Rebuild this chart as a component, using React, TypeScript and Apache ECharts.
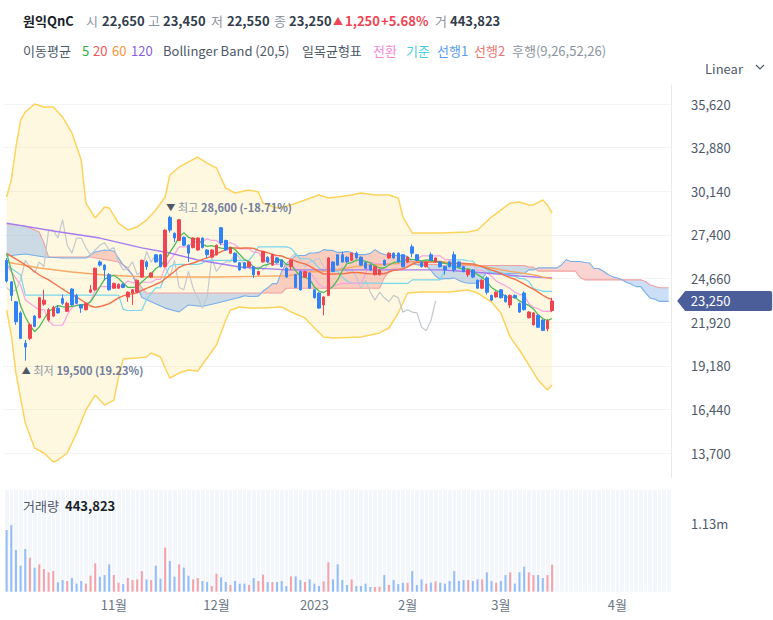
import React, { useEffect, useRef } from 'react';
import * as echarts from 'echarts';

// ---- price data ----
const opens = [25800,24450,23200,22500,20600,20900,22300,22200,23050,22050, 22300,22800,23400,22600,24000,23600,23000,22700,23800,23950, 25700,25500,24900,24050,24050,24300,23500,23750,23800,24750, 25700,24750,26150,26150,25400,28500,27500,27050,27250,26750, 26600,26450,27200,26450,26000,26150,27850,27050,26250,26250, 25650,25650,25400,25400,24900,25700,26000,25500,25950,25800, 25300,25400,24900,25100,24750,25000,23950,23750,23000,23600, 25700,26150,26150,26000,25800,26250,26000,25650,25500,24900, 24900,25800,25950,26250,26250,26150,25700,26650,26150,25700, 25400,26150,25700,25700,25400,25700,26150,25700,25400,24900, 25200,24550,24050,24700,23600,23500,23950,23600,23000,23600, 23100,23750,22200,21750,22350,22050,21500,22650];
const highs = [25950,24500,23250,22600,20800,21850,22350,23500,23950,22800, 22950,23000,23650,23200,24050,23700,23050,23150,24250,25350, 25800,25550,25000,24400,24350,24350,23850,24000,24600,25850, 25800,25050,26200,26200,27750,28600,27550,28400,27300,26800, 27250,27250,27250,26500,26500,26800,27900,27100,26650,26300, 25700,25700,25750,25450,25150,26400,26050,26200,26000,25850, 25350,25850,24950,25150,25150,25050,24000,23800,23550,26000, 25750,26200,26350,26050,26300,26350,26050,25700,25550,25450, 25250,25850,26300,26300,26300,26200,26050,26800,26200,25750, 25750,26300,26000,25750,25450,25750,26350,25750,25450,25250, 25250,24600,24600,24800,23650,23850,24000,23650,23650,23650, 23150,23850,22600,22550,22400,22100,22100,23450];
const lows = [24400,23250,21750,20850,19500,20800,21600,22150,22950,21950, 22250,22450,23000,22550,22950,23050,22500,22650,23750,23900, 25400,24550,23900,24000,24000,24050,23200,23000,23750,24700, 25200,24700,25650,25350,25350,27550,26950,27000,26700,25700, 26550,26400,26550,25950,25950,26100,26750,26400,26200,25650, 25150,25250,25350,24700,24850,25650,25650,25450,25600,25350, 24700,25200,24050,23900,24700,24000,23400,22750,22350,23550, 25050,25450,25650,25650,25750,25900,25450,25250,25150,24850, 24850,25450,25900,25900,25650,25350,25650,26000,25750,25350, 25350,25750,25650,25350,24900,25350,25050,25350,25050,24750, 24700,24000,24000,23650,23250,23450,23400,23150,22800,23400, 22500,22650,22150,21700,21550,21350,21350,22550];
const closes = [24500,23600,21950,20900,20350,21750,21650,23450,23300,22700, 22850,22500,23100,23100,23000,23100,22800,23100,23950,25300, 25500,25200,23950,24350,24300,24100,23800,23950,24550,25800, 25400,25000,25700,25400,27700,27700,27200,28350,26750,26250, 27200,27200,26600,26150,26450,26750,26900,26450,26600,25700, 25200,25300,25700,24900,25100,26350,25700,26150,25650,25400, 24750,25800,24100,23950,25100,24050,23450,22800,23500,25950, 25100,25500,25700,25700,26250,25950,25500,25300,25200,25400, 25200,25500,26250,25950,25700,25400,26000,26250,25800,25400, 25700,25800,25950,25400,25200,25400,25200,25400,25100,25200, 24750,24050,24550,23800,23300,23800,23450,23200,23600,23450, 22550,22700,22550,22500,21600,21400,22000,23250];
const volumes = [1015000,1097000,686000,428000,702000,559000,395000,450000,373000,319000, 340000,155000,192000,176000,225000,132000,176000,132000,263000,467000, 247000,274000,450000,274000,148000,126000,225000,192000,203000,340000, 203000,192000,428000,214000,724000,505000,247000,450000,395000,263000, 203000,225000,176000,159000,94000,296000,236000,159000,110000,176000, 132000,132000,110000,225000,176000,280000,159000,159000,159000,176000, 94000,252000,252000,192000,159000,203000,132000,94000,170000,483000, 203000,450000,192000,110000,203000,94000,94000,132000,77000,77000, 82000,274000,110000,192000,125000,148000,148000,340000,110000,203000, 132000,148000,170000,148000,132000,176000,340000,176000,192000,192000, 176000,203000,203000,319000,176000,148000,176000,274000,319000,132000, 319000,411000,319000,274000,274000,225000,274000,443823];

// ---- x axis ticks ----
const tickIndex = [23, 45, 66, 86, 106, 131];
const tickText = ['11월', '12월', '2023', '2월', '3월', '4월'];
const priceTicks = { min: 13700, max: 35620, step: 2740 };

// ---- indicator values ([index, value]) ----
const bbUpper = [[0,29780],[1,30850],[2,32920],[3,34610],[4,35120],[6,35620],[8,35430],[10,35430],[12,34800],[14,33800],[16,32100],[17,29400],[19,28460],[21,29150],[22,29090],[24,28140],[26,27710],[28,27900],[30,28330],[32,28960],[34,29780],[35,31160],[37,31660],[39,31980],[41,32290],[43,31910],[45,31600],[47,30340],[49,30030],[52,30220],[54,30090],[55,29400],[58,29090],[61,29280],[64,29590],[67,29900],[69,29720],[71,29780],[74,29900],[76,30030],[79,29900],[82,29900],[84,29720],[85,28520],[87,27520],[93,27520],[99,27580],[101,27710],[104,28520],[106,28960],[108,29400],[110,29460],[112,29280],[113,29280],[115,29590],[116,29280],[117,28770]];
const bbLower = [[0,22680],[1,21110],[2,18720],[4,15580],[6,14010],[8,13700],[10,13130],[11,13250],[13,13700],[15,14950],[17,16390],[19,17340],[21,16710],[23,17020],[24,18470],[25,19600],[28,19670],[30,19730],[31,19980],[33,19730],[34,19040],[35,18410],[37,18720],[39,18910],[41,18850],[43,19670],[45,20480],[47,22050],[48,22680],[50,22870],[52,22810],[55,22810],[59,22870],[61,22560],[64,22180],[66,21550],[68,20990],[70,20920],[76,20990],[80,21240],[82,21550],[84,22490],[86,23750],[89,23810],[95,23810],[99,23940],[101,23750],[104,23180],[106,22490],[108,20990],[110,20170],[112,19230],[114,18280],[116,17650],[117,17970]];
const ma5Head = [[0,26240],[1,25190],[2,24060],[3,22930]];
const ma20Head = [[0,26240],[3,25700],[5,25320],[7,24880],[9,24570],[11,24190],[13,23810],[15,23500],[17,23120],[18,22930]];
const ma60Head = [[0,25700],[7,25320],[14,25070],[21,24880],[30,24750],[45,24750],[58,24820]];
const ma120Line = [[0,28140],[10,27640],[20,27200],[29,26580],[35,26260],[41,25820],[50,25380],[60,25200],[80,25200],[93,25200],[100,25070],[110,24820],[117,24690]];
const convHead = [[0,25510],[3,24250],[4,23310],[7,22680]];
const baseHead = [[0,25510],[3,24880],[4,23620],[24,23620]];
const span1Head = [[0,26070],[4,26200],[8,26010],[12,25950],[17,25950],[19,26320],[21,26450],[23,26390],[25,25510],[27,24880],[29,23470],[31,23200],[34,22800],[37,22560],[39,23000],[42,22900],[45,23100],[49,23400]];
const span2Head = [[0,28080],[4,27960],[7,27580],[8,26890],[9,26010],[18,26010],[24,25700],[26,25320],[28,24440],[30,23750],[59,23750],[60,24050],[75,24050]];

const FONT = "'Noto Sans CJK KR', 'Noto Sans', sans-serif";
const TOTAL = 143;
const UP = '#f04452';
const DOWN = '#3182f6';
const N = closes.length;
const fmt = (v: number) => Math.round(v).toLocaleString('en-US');

function rolling(period: number, head: number[][]) {
  const pts = head.map((p) => [p[0], p[1]]);
  for (let i = period - 1; i < N; i++) {
    let s = 0;
    for (let k = i - period + 1; k <= i; k++) s += closes[k];
    pts.push([i, s / period]);
  }
  return pts;
}
function midRange(i: number, period: number) {
  let hi = -Infinity, lo = Infinity;
  for (let k = i - period + 1; k <= i; k++) { hi = Math.max(hi, highs[k]); lo = Math.min(lo, lows[k]); }
  return (hi + lo) / 2;
}
const ma5 = rolling(5, ma5Head);
const ma20 = rolling(20, ma20Head);
const ma60 = rolling(60, ma60Head);
const conv = [...convHead];
for (let i = 8; i < N; i++) conv.push([i, midRange(i, 9)]);
const base = [...baseHead];
for (let i = 25; i < N; i++) base.push([i, midRange(i, 26)]);
const span1 = [...span1Head];
for (let i = 50; i < N + 25; i++) span1.push([i, (midRange(i - 25, 9) + midRange(i - 25, 26)) / 2]);
const span2 = [...span2Head];
for (let i = 76; i < N + 25; i++) span2.push([i, midRange(i - 25, 52)]);
const lagging: number[][] = [];
for (let i = 0; i + 25 < N; i++) lagging.push([i, closes[i + 25]]);

function evalPoly(pts: number[][], x: number) {
  if (x <= pts[0][0]) return pts[0][1];
  for (let k = 1; k < pts.length; k++) {
    if (x <= pts[k][0]) {
      const [x0, y0] = pts[k - 1];
      const [x1, y1] = pts[k];
      return x1 === x0 ? y1 : y0 + ((y1 - y0) * (x - x0)) / (x1 - x0);
    }
  }
  return pts[pts.length - 1][1];
}
function cloudRuns(a: number[][], b: number[][]) {
  const lo = Math.max(a[0][0], b[0][0]);
  const hi = Math.min(a[a.length - 1][0], b[b.length - 1][0]);
  const xs = Array.from(new Set([...a, ...b].map((p) => p[0]).filter((x) => x >= lo && x <= hi))).sort((p, q) => p - q);
  const runs: any[] = [];
  let cur: any = null;
  let px = 0, pa = 0, pb = 0;
  for (const x of xs) {
    const va = evalPoly(a, x), vb = evalPoly(b, x);
    const s = va >= vb ? 1 : -1;
    if (!cur) cur = { s, top: [[x, va]], bot: [[x, vb]] };
    else if (s !== cur.s) {
      const d0 = pa - pb, d1 = va - vb;
      const t = d0 / (d0 - d1);
      const xc = px + t * (x - px), vc = pa + t * (va - pa);
      cur.top.push([xc, vc]); cur.bot.push([xc, vc]); runs.push(cur);
      cur = { s, top: [[xc, vc], [x, va]], bot: [[xc, vc], [x, vb]] };
    } else { cur.top.push([x, va]); cur.bot.push([x, vb]); }
    px = x; pa = va; pb = vb;
  }
  if (cur) runs.push(cur);
  return runs;
}
const runs = cloudRuns(span1, span2);

function coordAt(api: any, x: number, v: number) {
  const i0 = Math.floor(x);
  const t = x - i0;
  const p0 = api.coord([i0, v]);
  if (t === 0) return p0;
  const p1 = api.coord([i0 + 1, v]);
  return [p0[0] + (p1[0] - p0[0]) * t, p0[1]];
}

function line(name: string, data: number[][], color: string, width = 1.2, z = 3) {
  return {
    type: 'line', name, data, xAxisIndex: 0, yAxisIndex: 0, showSymbol: false, symbol: 'none',
    lineStyle: { color, width }, silent: true, z, animation: false,
  };
}

function buildOption() {
  let hiIdx = 0, loIdx = 0;
  highs.forEach((h, i) => { if (h > highs[hiIdx]) hiIdx = i; });
  lows.forEach((l, i) => { if (l < lows[loIdx]) loIdx = i; });
  const last = N - 1;
  const lastClose = closes[last];
  const prevClose = closes[last - 1];
  const chg = lastClose - prevClose;
  const pctHi = ((lastClose / highs[hiIdx] - 1) * 100).toFixed(2);
  const pctLo = ((lastClose / lows[loIdx] - 1) * 100).toFixed(2);
  const categories = Array.from({ length: TOTAL }, (_, i) => String(i));

  const gray = '#8b95a1';
  const dark = '#333d4b';
  const t = (text: string, x: number, y: number, fill: string, fontSize = 13, fontWeight: any = 'normal') => ({
    type: 'text', x, y, silent: true, z: 100,
    style: { text, fill, fontSize, fontWeight, fontFamily: FONT, verticalAlign: 'middle' },
  });

  const graphic = [
    t('원익QnC', 23, 20, '#191f28', 13, 'bold'),
    t('시', 86, 20, gray), t(fmt(opens[last]), 102, 20, dark, 13, 'bold'),
    t('고', 148, 20, gray), t(fmt(highs[last]), 163, 20, dark, 13, 'bold'),
    t('저', 211, 20, gray), t(fmt(lows[last]), 227, 20, dark, 13, 'bold'),
    t('종', 274, 20, gray), t(fmt(lastClose), 289, 20, dark, 13, 'bold'),
    t('▲', 333, 20, UP, 10), t(fmt(chg), 345, 20, UP, 13, 'bold'),
    t('+' + ((chg / prevClose) * 100).toFixed(2) + '%', 381, 20, UP, 13, 'bold'),
    t('거', 435, 20, gray), t(fmt(volumes[last]), 450, 20, dark, 13, 'bold'),
    t('이동평균', 23, 50, '#4e5968'),
    t('5', 82, 50, '#2fb344'), t('20', 93, 50, '#f25656'), t('60', 112, 50, '#f7943c'), t('120', 131, 50, '#8a5ce6'),
    t('Bollinger Band (20,5)', 163, 50, '#4e5968'),
    t('일목균형표', 302, 50, '#4e5968'),
    t('전환', 373, 50, '#f58ad6'), t('기준', 406, 50, '#4fcbe3'), t('선행1', 437, 50, '#5a9cf0'),
    t('선행2', 474, 50, '#f07575'), t('후행(9,26,52,26)', 512, 50, '#8b95a1'),
    t('Linear', 705, 68, '#4e5968'),
    { type: 'polyline', silent: true, z: 100, shape: { points: [[756, 65], [760, 69], [764, 65]] }, style: { stroke: '#4e5968', lineWidth: 1.2, fill: 'none' } },
    t('거래량', 23, 505, '#4e5968'), t(fmt(volumes[last]), 65, 505, '#191f28', 13, 'bold'),
  ];

  const series: any[] = [
    {
      type: 'custom', xAxisIndex: 0, yAxisIndex: 0, silent: true, z: 1, data: [[0, 20000]],
      renderItem: (_p: any, api: any) => ({
        type: 'polygon',
        shape: { points: [...bbUpper.map((p) => api.coord(p)), ...bbLower.slice().reverse().map((p) => api.coord(p))] },
        style: { fill: 'rgba(255,222,120,0.22)' },
      }),
    },
    {
      type: 'custom', xAxisIndex: 0, yAxisIndex: 0, silent: true, z: 1, data: [[0, 20000]],
      renderItem: (_p: any, api: any) => ({
        type: 'group',
        children: runs.map((r) => ({
          type: 'polygon',
          shape: { points: [...r.top.map((p: number[]) => coordAt(api, p[0], p[1])), ...r.bot.slice().reverse().map((p: number[]) => coordAt(api, p[0], p[1]))] },
          style: { fill: r.s > 0 ? 'rgba(240,120,120,0.33)' : 'rgba(110,165,235,0.36)' },
        })),
      }),
    },
    line('bbUpper', bbUpper, '#fdd35c', 1.5, 2),
    line('bbLower', bbLower, '#fdd35c', 1.5, 2),
    line('선행2', span2, '#f3a0a0', 1.1, 2),
    line('선행1', span1, '#78aeea', 1.1, 2),
    line('후행', lagging, '#c4c8ce', 1.2, 3),
    line('기준', base, '#7ad6ea', 1.2, 3),
    line('전환', conv, '#f7a3e0', 1.2, 3),
    line('MA120', ma120Line, '#a47cf0', 1.4, 3),
    line('MA60', ma60, '#f7aa66', 1.4, 3),
    line('MA20', ma20, '#f2704a', 1.4, 3),
    line('MA5', ma5, '#4dbb57', 1.3, 3),
    {
      type: 'candlestick', xAxisIndex: 0, yAxisIndex: 0, z: 5, barWidth: 3,
      data: opens.map((o, i) => [o, closes[i], lows[i], highs[i]]),
      itemStyle: { color: UP, color0: DOWN, borderColor: UP, borderColor0: DOWN, borderWidth: 1 },
      markPoint: {
        symbol: 'circle', symbolSize: 1, itemStyle: { color: 'rgba(0,0,0,0)' }, animation: false,
        data: [
          {
            coord: [hiIdx, highs[hiIdx]],
            label: {
              show: true, position: [-3, -14], align: 'left', verticalAlign: 'top',
              formatter: `{a|▼} {g|최고} {b|${fmt(highs[hiIdx])} (${pctHi}%)}`,
              rich: {
                a: { fontSize: 9, color: '#4e5968', fontFamily: FONT },
                g: { fontSize: 11, color: '#8b95a1', fontFamily: FONT },
                b: { fontSize: 11, color: '#6f7c9b', fontWeight: 'bold', fontFamily: FONT },
              },
            },
          },
          {
            coord: [loIdx, lows[loIdx]],
            label: {
              show: true, position: [-3, 4], align: 'left', verticalAlign: 'top',
              formatter: `{a|▲} {g|최저} {b|${fmt(lows[loIdx])} (${pctLo}%)}`,
              rich: {
                a: { fontSize: 9, color: '#4e5968', fontFamily: FONT },
                g: { fontSize: 11, color: '#8b95a1', fontFamily: FONT },
                b: { fontSize: 11, color: '#6f7c9b', fontWeight: 'bold', fontFamily: FONT },
              },
            },
          },
          {
            coord: [TOTAL - 1, lastClose],
            symbol: 'path://M0,10L8,0L93,0Q95,0 95,2L95,18Q95,20 93,20L8,20Z',
            symbolSize: [95, 20], symbolKeepAspect: false, symbolOffset: [56, 0],
            itemStyle: { color: '#4b5e99' },
            label: { show: true, position: 'inside', color: '#ffffff', fontSize: 13, fontFamily: FONT, offset: [-14, 0], formatter: fmt(lastClose) },
          },
        ],
      },
    },
    {
      type: 'bar', xAxisIndex: 2, yAxisIndex: 2, barWidth: 2, silent: true,
      data: volumes.map((v, i) => ({ value: v, itemStyle: { color: closes[i] >= opens[i] ? '#f6a1a7' : '#92bdf6' } })),
    },
  ];

  return {
    animation: false,
    textStyle: { fontFamily: FONT },
    grid: [
      { left: 4.3, right: 102, top: 85, height: 393 },
      { left: 4.3, right: 102, top: 104, height: 349 },
      { left: 4.3, right: 102, top: 490, height: 101.7, show: true, backgroundColor: '#f3f6fa', borderWidth: 0 },
    ],
    xAxis: [
      { type: 'category', gridIndex: 0, data: categories, boundaryGap: true, show: false },
      { type: 'value', gridIndex: 1, min: 0, max: 1, show: false },
      {
        type: 'category', gridIndex: 2, data: categories, boundaryGap: true,
        axisLine: { show: false }, axisTick: { show: false },
        axisLabel: {
          interval: (idx: number) => tickIndex.includes(idx),
          formatter: (_v: string, idx: number) => tickText[tickIndex.indexOf(idx)] ?? '',
          color: '#6b7684', fontSize: 13, margin: 6, fontFamily: FONT,
        },
        splitLine: { show: true, interval: 0, lineStyle: { color: '#ffffff', width: 1 } },
      },
    ],
    yAxis: [
      {
        type: 'value', gridIndex: 0, min: 12130, max: 36813, position: 'right',
        axisLine: { show: true, lineStyle: { color: '#e8ebee' } }, axisTick: { show: false },
        axisLabel: { show: false }, splitLine: { show: false },
      },
      {
        type: 'value', gridIndex: 1, min: priceTicks.min, max: priceTicks.max, interval: priceTicks.step, position: 'right',
        axisLine: { show: false }, axisTick: { show: false },
        axisLabel: { color: '#4e5968', fontSize: 13, margin: 20, fontFamily: FONT, formatter: (v: number) => fmt(v) },
        splitLine: { show: true, lineStyle: { color: '#f1f3f5', width: 1 } },
      },
      {
        type: 'value', gridIndex: 2, min: 0, max: 1673000, interval: 1130000, position: 'right',
        axisLine: { show: false }, axisTick: { show: false }, splitLine: { show: false },
        axisLabel: { color: '#4e5968', fontSize: 13, margin: 20, fontFamily: FONT, formatter: (v: number) => (v === 1130000 ? '1.13m' : '') },
      },
    ],
    graphic,
    series,
  };
}

export default function App() {
  const ref = useRef<HTMLDivElement>(null);
  useEffect(() => {
    const chart = echarts.init(ref.current as HTMLDivElement, null, { renderer: 'svg' });
    chart.setOption(buildOption() as any);
    return () => chart.dispose();
  }, []);
  return <div ref={ref} style={{ position: 'fixed', left: 0, top: 0, width: 773, height: 620, background: '#ffffff' }} />;
}
